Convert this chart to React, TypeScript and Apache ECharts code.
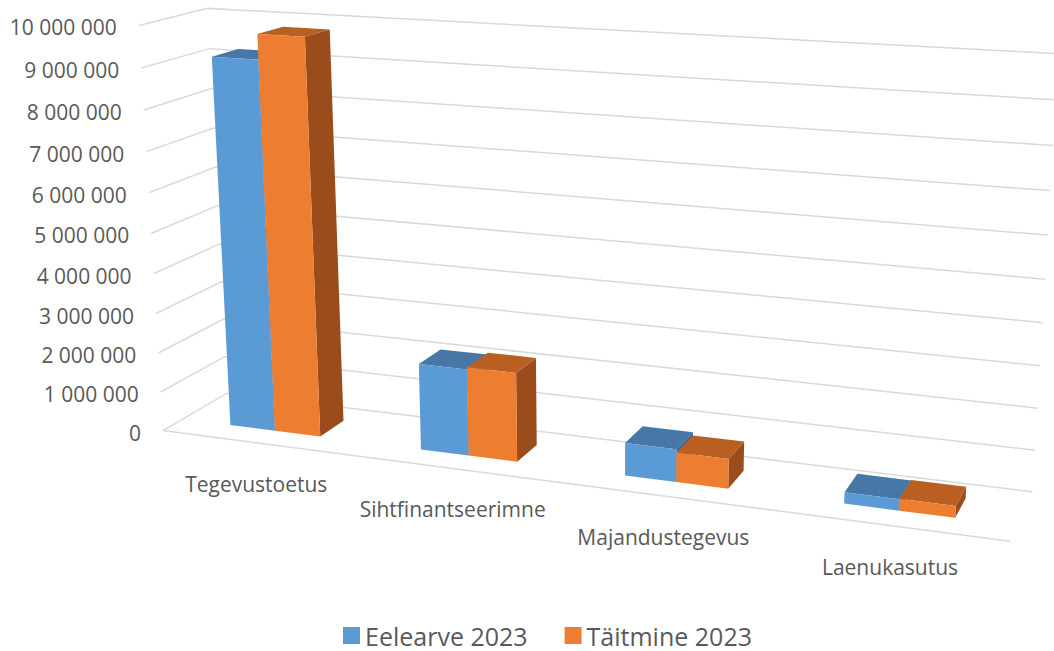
import React, { useEffect, useRef } from 'react';
import * as echarts from 'echarts';

// ---------- data ----------
const categories = ['Tegevustoetus', 'Sihtfinantseerimne', 'Majandustegevus', 'Laenukasutus'];
const seriesNames = ['Eelearve 2023', 'Täitmine 2023'];
const eelarve = [9200000, 2150000, 800000, 270000];
const taitmine = [9800000, 2200000, 720000, 280000];
const yTicks = [0, 1000000, 2000000, 3000000, 4000000, 5000000, 6000000, 7000000, 8000000, 9000000, 10000000];
const yMin = 0;
const yMax = 10000000;
const yInterval = 1000000;

// ---------- layout / style ----------
const FONT = '"Open Sans", "Noto Sans", sans-serif';
const TEXT_COLOR = '#595959';
const GRID_COLOR = '#D9D9D9';
const BAR_FRAC = 0.24; // bar width as fraction of category band
const DEPTH_FRONT = 0.3;
const DEPTH_BACK = 0.7;
const COLORS = [
  { front: '#5B9BD5', top: '#4677A6', side: '#3C6B97' },
  { front: '#ED7D31', top: '#BA5F22', side: '#9A4C1C' },
];

// 3D frame calibration: [u, v, w, screenX, screenY] (u: across, v: height, w: depth)
const FRAME_REF: number[][] = [
  [0, 1, 0, 139, 25], [0, 0.9, 0, 141, 68], [0, 0.8, 0, 144, 110], [0, 0.7, 0, 147, 152],
  [0, 0.6, 0, 148, 193], [0, 0.3, 0, 156, 314], [0, 0.2, 0, 158, 353], [0, 0.1, 0, 161, 391],
  [0, 0, 0, 163, 431],
  [0, 1, 1, 208, 8], [0, 0.9, 1, 209, 49], [0, 0, 1, 227, 393],
  [1, 0.8, 1, 1053, 145], [1, 0.7, 1, 1050, 191], [1, 0.6, 1, 1048, 235], [1, 0.5, 1, 1045, 279],
  [1, 0.4, 1, 1042, 323], [1, 0.3, 1, 1040, 366], [1, 0.2, 1, 1037, 408], [1, 0.1, 1, 1035, 450],
  [1, 0, 1, 1033, 492],
  [1, 0, 0, 1010, 541],
];

function fitCamera(pts: number[][]): number[] {
  const n = 11;
  const M: number[][] = Array.from({ length: n }, () => new Array(n + 1).fill(0));
  const addRow = (a: number[], b: number) => {
    for (let i = 0; i < n; i++) {
      for (let j = 0; j < n; j++) M[i][j] += a[i] * a[j];
      M[i][n] += a[i] * b;
    }
  };
  for (const [X, Y, Z, px, py] of pts) {
    const x = px / 1000, y = py / 1000;
    addRow([X, Y, Z, 1, 0, 0, 0, 0, -x * X, -x * Y, -x * Z], x);
    addRow([0, 0, 0, 0, X, Y, Z, 1, -y * X, -y * Y, -y * Z], y);
  }
  for (let c = 0; c < n; c++) {
    let piv = c;
    for (let r = c + 1; r < n; r++) if (Math.abs(M[r][c]) > Math.abs(M[piv][c])) piv = r;
    const t = M[c]; M[c] = M[piv]; M[piv] = t;
    for (let r = 0; r < n; r++) {
      if (r === c) continue;
      const f = M[r][c] / M[c][c];
      for (let k = c; k <= n; k++) M[r][k] -= f * M[c][k];
    }
  }
  return M.map((row, i) => row[n] / row[i]);
}

const CAM = fitCamera(FRAME_REF);
function proj(u: number, v: number, w: number): number[] {
  const d = CAM[8] * u + CAM[9] * v + CAM[10] * w + 1;
  return [
    (1000 * (CAM[0] * u + CAM[1] * v + CAM[2] * w + CAM[3])) / d,
    (1000 * (CAM[4] * u + CAM[5] * v + CAM[6] * w + CAM[7])) / d,
  ];
}

const fmt = (v: number) => String(v).replace(/\B(?=(\d{3})+(?!\d))/g, ' ');

function norm(params: any, api: any, cat: number, val: number) {
  const cs = params.coordSys;
  const p = api.coord([cat, val]);
  return {
    u: (p[0] - cs.x) / cs.width,
    v: (cs.y + cs.height - p[1]) / cs.height,
    band: api.size([1, 0])[0] / cs.width,
  };
}

function barRenderer(si: number) {
  return (params: any, api: any) => {
    const cat = api.value(0);
    const val = api.value(1);
    const { u, v, band } = norm(params, api, cat, val);
    const bw = band * BAR_FRAC;
    const u1 = si === 0 ? u - bw : u;
    const u2 = si === 0 ? u : u + bw;
    const c = COLORS[si];
    const w0 = DEPTH_FRONT, w1 = DEPTH_BACK;
    return {
      type: 'group',
      children: [
        { type: 'polygon', shape: { points: [proj(u2, 0, w0), proj(u2, v, w0), proj(u2, v, w1), proj(u2, 0, w1)] }, style: { fill: c.side } },
        { type: 'polygon', shape: { points: [proj(u1, v, w0), proj(u2, v, w0), proj(u2, v, w1), proj(u1, v, w1)] }, style: { fill: c.top } },
        { type: 'polygon', shape: { points: [proj(u1, 0, w0), proj(u2, 0, w0), proj(u2, v, w0), proj(u1, v, w0)] }, style: { fill: c.front } },
      ],
    };
  };
}

export default function App() {
  const ref = useRef<HTMLDivElement>(null);
  useEffect(() => {
    if (!ref.current) return;
    const chart = echarts.init(ref.current, null, { renderer: 'svg' });
    chart.setOption({
      animation: false,
      backgroundColor: '#ffffff',
      grid: { left: 0, right: 0, top: 0, bottom: 0 },
      xAxis: { type: 'category', data: categories, show: false },
      yAxis: { type: 'value', min: yMin, max: yMax, interval: yInterval, show: false },
      legend: {
        data: seriesNames,
        left: 338,
        top: 618,
        icon: 'rect',
        itemWidth: 17,
        itemHeight: 17,
        itemGap: 37,
        textStyle: { fontSize: 25, color: TEXT_COLOR, fontFamily: FONT },
        selectedMode: false,
      },
      series: [
        {
          type: 'custom',
          name: 'grid',
          silent: true,
          clip: false,
          data: yTicks.map((t) => [0, t]),
          renderItem: (params: any, api: any) => {
            const val = api.value(1);
            const { v } = norm(params, api, 0, val);
            const a = proj(0, v, 0), b = proj(0, v, 1), c = proj(1, v, 1);
            const children: any[] = [
              { type: 'polyline', shape: { points: [a, b, c] }, style: { stroke: GRID_COLOR, lineWidth: 1.5, fill: 'none' } },
              {
                type: 'text',
                x: a[0] - 22,
                y: a[1] + 2,
                style: { text: fmt(val), fill: TEXT_COLOR, fontSize: 21, fontFamily: FONT, align: 'right', verticalAlign: 'middle' },
              },
            ];
            if (val === yMin) {
              children.push({ type: 'polyline', shape: { points: [a, proj(1, v, 0)] }, style: { stroke: GRID_COLOR, lineWidth: 1.5, fill: 'none' } });
            }
            return { type: 'group', children };
          },
        },
        {
          type: 'custom',
          name: seriesNames[0],
          silent: true,
          clip: false,
          itemStyle: { color: COLORS[0].front },
          data: eelarve.map((val, i) => [i, val]),
          renderItem: barRenderer(0),
        },
        {
          type: 'custom',
          name: seriesNames[1],
          silent: true,
          clip: false,
          itemStyle: { color: COLORS[1].front },
          data: taitmine.map((val, i) => [i, val]),
          renderItem: barRenderer(1),
        },
        {
          type: 'custom',
          name: 'labels',
          silent: true,
          clip: false,
          data: categories.map((_, i) => [i, 0]),
          renderItem: (params: any, api: any) => {
            const { u, v } = norm(params, api, api.value(0), 0);
            const p = proj(u, v, 0);
            return {
              type: 'text',
              x: p[0],
              y: p[1] + 41,
              style: { text: categories[params.dataIndex], fill: TEXT_COLOR, fontSize: 21, fontFamily: FONT, align: 'center', verticalAlign: 'middle' },
            };
          },
        },
      ],
    });
    return () => chart.dispose();
  }, []);
  return <div ref={ref} style={{ position: 'absolute', left: 0, top: 0, width: 1054, height: 651 }} />;
}
